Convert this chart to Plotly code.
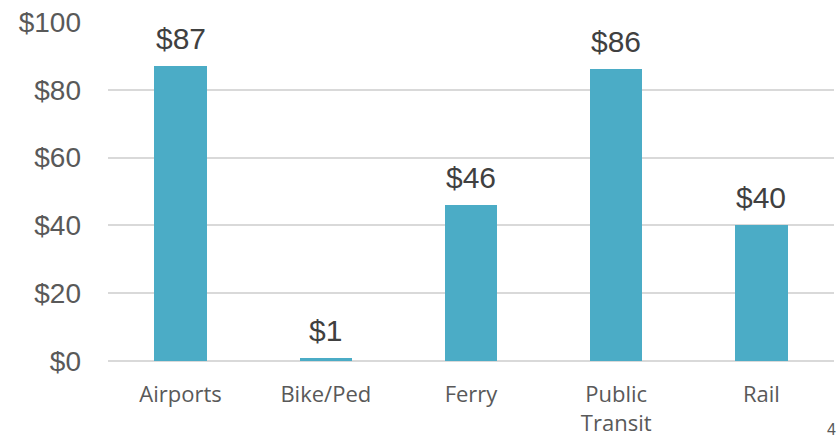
import plotly.graph_objects as go

categories = ["Airports", "Bike/Ped", "Ferry", "Public<br>Transit", "Rail"]
values = [87, 1, 46, 86, 40]
y_ticks = [0, 20, 40, 60, 80, 100]
y_tick_labels = ["$0", "$20", "$40", "$60", "$80", "$100"]

fig = go.Figure(go.Bar(
    x=categories,
    y=values,
    marker=dict(color="#4BACC6", line=dict(width=0)),
    width=0.36,
    cliponaxis=False,
    hoverinfo="skip",
))

annotations = [
    dict(
        x=c, y=v, xref="x", yref="y", text=f"${v}", showarrow=False,
        xanchor="center", yanchor="bottom", yshift=9,
        font=dict(family="Liberation Sans, Arial", size=30, color="#404040"),
    )
    for c, v in zip(categories, values)
]
annotations.append(dict(
    text="4", xref="paper", yref="paper", x=1.0, y=-0.17,
    xshift=4, xanchor="right", yanchor="top", showarrow=False,
    font=dict(family="Liberation Sans, Arial", size=16, color="#595959"),
))

fig.update_layout(
    width=839, height=438,
    margin=dict(l=108, r=5, t=22, b=77),
    paper_bgcolor="white", plot_bgcolor="white",
    showlegend=False,
    bargap=0,
    xaxis=dict(
        showgrid=False, showline=False, zeroline=False, automargin=False,
        ticks="", tickfont=dict(family="Open Sans", size=22, color="#595959"),
        ticklabelstandoff=18,
    ),
    yaxis=dict(
        range=[0, 100], tickvals=y_ticks, ticktext=y_tick_labels,
        showgrid=True, gridcolor="#D9D9D9", gridwidth=1.5,
        zeroline=True, zerolinecolor="#D9D9D9", zerolinewidth=1.5,
        showline=False, ticks="", automargin=False,
        tickfont=dict(family="Liberation Sans, Arial", size=28, color="#595959"),
        ticklabelstandoff=26,
    ),
    annotations=annotations,
)

fig.write_html("out.html")
